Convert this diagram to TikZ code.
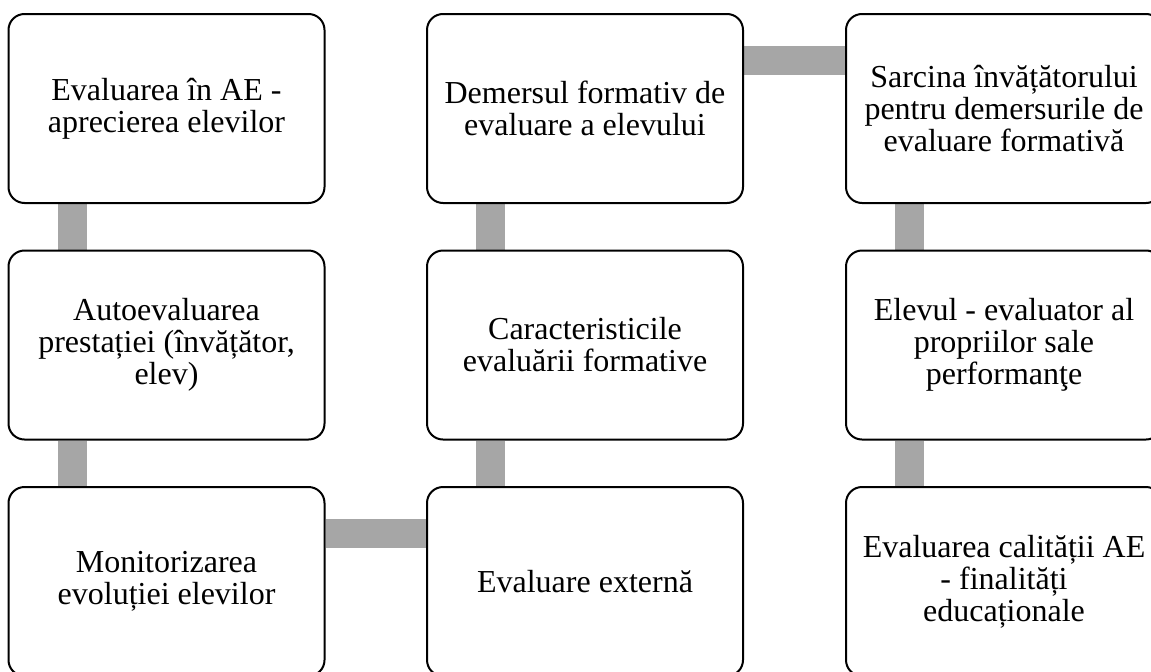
\documentclass[tikz,border=0pt]{standalone}
\usepackage{fontspec}
\setmainfont{Liberation Serif}
\usetikzlibrary{backgrounds}
\definecolor{linkgray}{HTML}{A6A6A6}

\begin{document}
\begin{tikzpicture}[x=0.75pt,y=-0.75pt,
    box/.style={draw, line width=1.5pt, rounded corners=12pt, fill=white,
        minimum width=237pt, minimum height=141.75pt, inner sep=0pt,
        align=center, font=\fontsize{24}{24}\selectfont},
    link/.style={draw=linkgray, line width=21.75pt}]

\useasboundingbox (0,0) rectangle (1151,671);
\clip (0,0) rectangle (1151,671);

\node[box] (eval)    at (166.5,108.5) {Evaluarea în AE -\\aprecierea elevilor};
\node[box] (auto)    at (166.5,345)   {Autoevaluarea\\prestației (învățător,\\elev)};
\node[box] (monit)   at (166.5,581.5) {Monitorizarea\\evoluției elevilor};

\node[box] (extern)  at (585,581.5)   {Evaluare externă};
\node[box] (caract)  at (585,345)     {Caracteristicile\\evaluării formative};
\node[box] (demers)  at (585,108.5)   {Demersul formativ de\\evaluare a elevului};

\node[box] (sarcina) at (1004,108.5)  {Sarcina învățătorului\\pentru demersurile de\\evaluare formativă};
\node[box] (elevul)  at (1004,345)    {Elevul - evaluator al\\propriilor sale\\performanţe};
\node[box] (calit)   at (1004,581.5)  {Evaluarea calității AE\\- finalități\\educaționale};

\begin{scope}[on background layer]
\draw[link] ([xshift=48.4pt]eval.south west) -- ([xshift=48.4pt]auto.north west);
\draw[link] ([xshift=48.4pt]auto.south west) -- ([xshift=48.4pt]monit.north west);
\draw[link] ([yshift=-35.6pt]monit.north east) -- ([yshift=-35.6pt]extern.north west);
\draw[link] ([xshift=48.4pt]extern.north west) -- ([xshift=48.4pt]caract.south west);
\draw[link] ([xshift=48.4pt]caract.north west) -- ([xshift=48.4pt]demers.south west);
\draw[link] ([yshift=-35.6pt]demers.north east) -- ([yshift=-35.6pt]sarcina.north west);
\draw[link] ([xshift=48.4pt]sarcina.south west) -- ([xshift=48.4pt]elevul.north west);
\draw[link] ([xshift=48.4pt]elevul.south west) -- ([xshift=48.4pt]calit.north west);
\end{scope}

\end{tikzpicture}
\end{document}
